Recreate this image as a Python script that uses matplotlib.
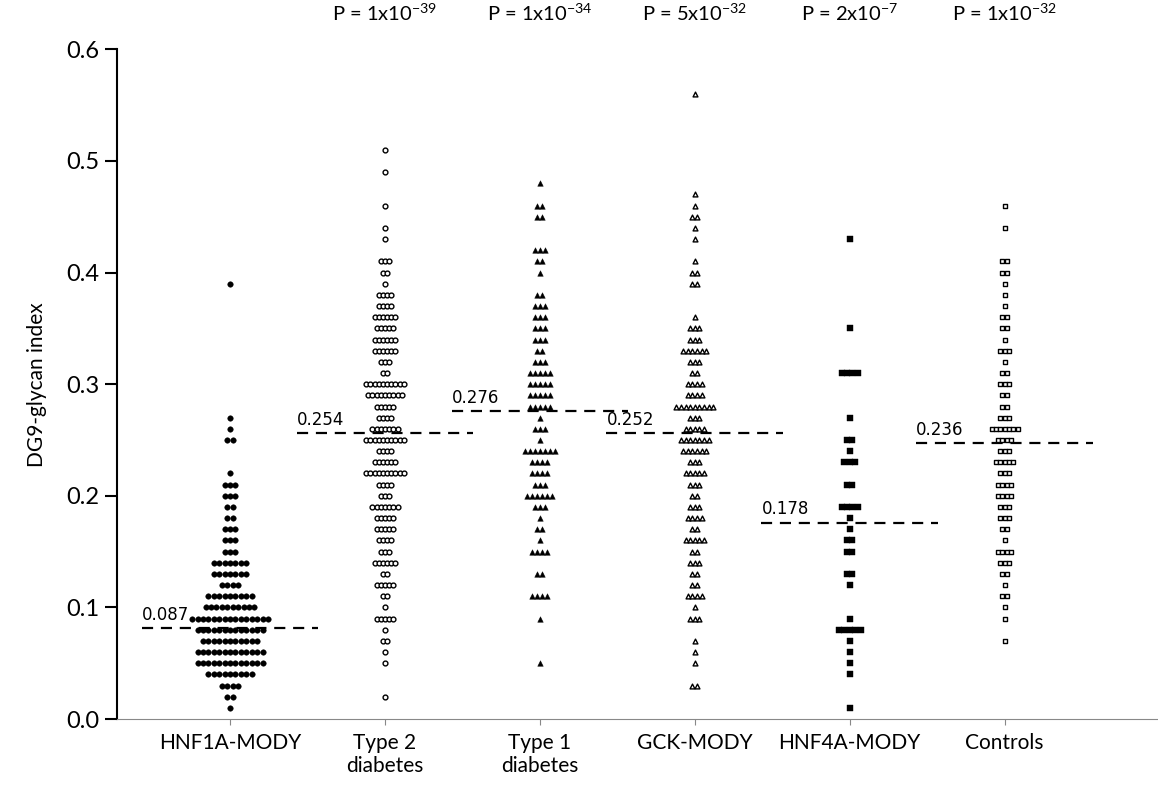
import matplotlib
matplotlib.use("Agg")
import matplotlib.pyplot as plt

plt.rcParams['font.family'] = ['Lato', 'DejaVu Sans']
plt.rcParams['mathtext.fontset'] = 'custom'
plt.rcParams['mathtext.rm'] = 'Lato'

categories = ["HNF1A-MODY", "Type 2\ndiabetes", "Type 1\ndiabetes", "GCK-MODY", "HNF4A-MODY", "Controls"]
p_exps = [None, ("1", "-39"), ("1", "-34"), ("5", "-32"), ("2", "-7"), ("1", "-32")]
medians = [0.0815, 0.256, 0.276, 0.256, 0.176, 0.247]
median_labels = ["0.087", "0.254", "0.276", "0.252", "0.178", "0.236"]

# value -> count for each group
hnf1a = {0.01:1,0.02:2,0.03:4,0.04:9,0.05:13,0.06:13,0.07:11,0.08:13,0.09:15,0.10:10,0.11:9,0.12:4,
         0.13:7,0.14:7,0.15:3,0.16:3,0.17:3,0.18:2,0.19:2,0.20:3,0.21:3,0.22:1,0.25:2,0.26:1,0.27:1,0.39:1}
t2d = {0.51:1,0.49:1,0.46:1,0.44:1,0.43:1,0.41:3,0.40:2,0.39:1,0.38:4,0.37:4,0.36:6,0.35:5,0.34:6,0.33:6,
       0.32:3,0.31:2,0.30:10,0.29:9,0.28:5,0.27:4,0.26:7,0.25:10,0.24:4,0.23:6,0.22:10,0.21:4,0.20:3,0.19:7,
       0.18:5,0.17:5,0.16:4,0.15:3,0.14:6,0.13:2,0.12:5,0.11:2,0.10:1,0.09:5,0.08:1,0.07:2,0.06:1,0.05:1,0.02:1}
t1d = {0.48:1,0.46:2,0.45:2,0.42:3,0.41:2,0.40:1,0.38:2,0.37:3,0.36:3,0.35:3,0.34:3,0.33:2,0.32:3,0.31:5,
       0.30:5,0.29:5,0.28:5,0.27:1,0.26:3,0.25:1,0.24:7,0.23:4,0.22:4,0.21:3,0.20:6,0.19:3,0.18:1,0.17:2,
       0.16:1,0.15:4,0.13:2,0.11:4,0.09:1,0.05:1}
gck = {0.56:1,0.47:1,0.46:1,0.45:2,0.44:1,0.43:1,0.41:1,0.40:2,0.39:2,0.36:1,0.35:3,0.34:3,0.33:6,0.32:3,
       0.31:2,0.30:4,0.29:4,0.28:9,0.27:3,0.26:5,0.25:7,0.24:6,0.23:3,0.22:5,0.21:3,0.20:2,0.19:3,0.18:4,
       0.17:2,0.16:5,0.15:2,0.14:3,0.13:2,0.12:2,0.11:4,0.10:1,0.09:3,0.07:1,0.06:1,0.05:1,0.03:2}
hnf4a = {0.43:1,0.35:1,0.31:4,0.27:1,0.25:2,0.24:1,0.23:3,0.21:2,0.19:4,0.18:1,0.17:1,0.16:2,0.15:2,
         0.13:2,0.12:1,0.09:1,0.08:5,0.07:1,0.06:1,0.05:1,0.04:1,0.01:1}
controls = {0.46:1,0.44:1,0.41:2,0.40:2,0.39:1,0.38:1,0.37:1,0.36:2,0.35:2,0.34:1,0.33:3,0.32:1,0.31:2,
            0.30:3,0.29:2,0.28:2,0.27:3,0.26:7,0.25:4,0.24:3,0.23:5,0.22:3,0.21:4,0.20:4,0.19:3,0.18:3,
            0.17:2,0.16:1,0.15:4,0.14:3,0.13:2,0.12:1,0.11:2,0.10:1,0.09:1,0.07:1}
groups = [hnf1a, t2d, t1d, gck, hnf4a, controls]
markers = ['o', 'o', '^', '^', 's', 's']
filled = [True, False, True, False, True, False]
spacing = [0.035, 0.027, 0.032, 0.03, 0.035, 0.028]

fig = plt.figure(figsize=(11.58, 7.96), dpi=100)
ax = fig.add_axes([0.101, 0.0967, 0.899, 0.8413])
for i, g in enumerate(groups):
    xs, ys = [], []
    dx = spacing[i]
    for v, n in g.items():
        for k in range(n):
            xs.append(i + (k - (n - 1) / 2) * dx)
            ys.append(v)
    if filled[i]:
        ax.scatter(xs, ys, marker=markers[i], s=16, c='black', linewidths=0.3, edgecolors='black', zorder=3)
    else:
        ax.scatter(xs, ys, marker=markers[i], s=12, facecolors='white', edgecolors='black', linewidths=1.0, zorder=3)
    ax.plot([i - 0.57, i + 0.57], [medians[i]] * 2, ls=(0, (5, 3.5)), color='black', lw=1.6, zorder=2)
    ax.text(i - 0.57, medians[i] + 0.004, median_labels[i], fontsize=12, family=['DejaVu Sans'],
            ha='left', va='bottom')
    if p_exps[i]:
        ax.text(i, 0.623, "P = %sx10$^{%s}$" % p_exps[i], ha='center', va='bottom', fontsize=14.5)

ax.set_xlim(-0.73, 5.99)
ax.set_ylim(0, 0.6)
ax.set_yticks([0, 0.1, 0.2, 0.3, 0.4, 0.5, 0.6])
ax.set_yticklabels(["0.0", "0.1", "0.2", "0.3", "0.4", "0.5", "0.6"], fontsize=17)
ax.set_xticks(range(6))
ax.set_xticklabels(categories, fontsize=15)
ax.set_ylabel("DG9-glycan index", fontsize=15, labelpad=14)
ax.spines['top'].set_visible(False)
ax.spines['right'].set_visible(False)
ax.spines['left'].set_linewidth(1.5)
ax.spines['bottom'].set_color('#888888')
ax.tick_params(axis='y', length=9, width=1.5)
ax.tick_params(axis='x', length=4, color='#888888', pad=6)
fig.savefig("out.png", dpi=100)
